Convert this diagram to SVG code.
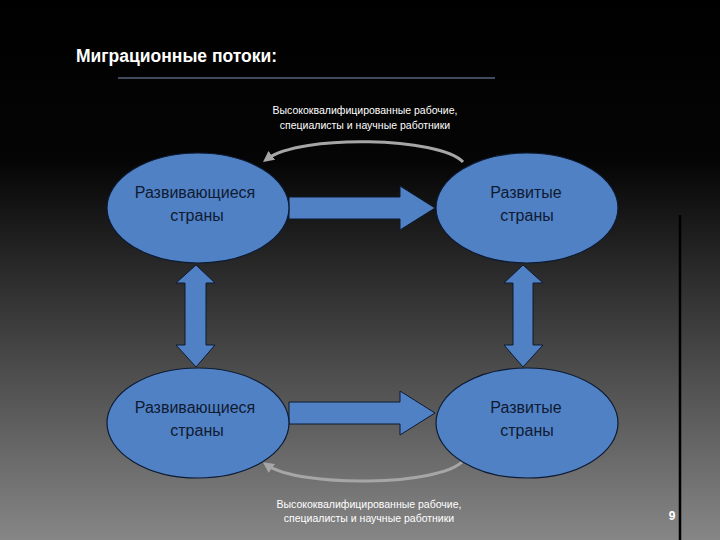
<svg xmlns="http://www.w3.org/2000/svg" width="720" height="540" viewBox="0 0 720 540">
<defs>
<linearGradient id="bg" x1="0" y1="0" x2="0" y2="1">
<stop offset="0" stop-color="#000"/>
<stop offset="0.3" stop-color="#050505"/>
<stop offset="1" stop-color="#868686"/>
</linearGradient>
<marker id="ah" markerWidth="11" markerHeight="11" refX="6" refY="5.5" orient="auto" markerUnits="userSpaceOnUse" viewBox="0 0 11 11">
<path d="M0,0 L11,5.5 L0,11 z" fill="#a6a6a6"/>
</marker>
<style>
.node{fill:#4f81c4;stroke:#0d1a33;stroke-width:1.2}
.arr{fill:#4f81c4;stroke:#0d1a33;stroke-width:1}
.nt{font-family:"Liberation Sans",Arial,sans-serif;font-size:16px;fill:#0f1a33;text-anchor:middle}
.lbl{font-family:"Liberation Sans",Arial,sans-serif;font-size:10.5px;fill:#fff;text-anchor:middle}
.curve{fill:none;stroke:#a6a6a6;stroke-width:3}
</style>
</defs>
<rect width="720" height="540" fill="url(#bg)"/>
<line x1="680" y1="215" x2="680" y2="540" stroke="#000" stroke-width="2.5"/>
<text x="76" y="62" font-family="Liberation Sans,Arial,sans-serif" font-size="17.5" font-weight="bold" fill="#fff">Миграционные потоки:</text>
<line x1="118" y1="78" x2="495" y2="78" stroke="#7f93bd" stroke-width="1"/>

<g id="connectors">
<path class="curve" d="M463,162 C440,137 300,134 267,159" marker-end="url(#ah)"/>
<path class="curve" d="M463,461 C440,486 300,488 267,465" marker-end="url(#ah)"/>
<path class="arr" d="M289,197 L400,197 L400,186 L435,208 L400,230 L400,219 L289,219 z"/>
<path class="arr" d="M289,402 L400,402 L400,391 L435,413 L400,435 L400,424 L289,424 z"/>
<path class="arr" d="M196,265 L215,283 L206,283 L206,345 L215,345 L196,367 L176,345 L185,345 L185,283 L176,283 z"/>
<path class="arr" d="M523,265 L543,283 L533,283 L533,345 L543,345 L523,367 L504,345 L513,345 L513,283 L504,283 z"/>
</g>

<g id="n1"><ellipse class="node" cx="198" cy="208" rx="91" ry="55"/>
<text class="nt" x="195" y="198">Развивающиеся</text><text class="nt" x="197" y="221">страны</text></g>
<g id="n2"><ellipse class="node" cx="527" cy="208" rx="91" ry="55"/>
<text class="nt" x="526" y="198">Развитые</text><text class="nt" x="527" y="221">страны</text></g>
<g id="n3"><ellipse class="node" cx="198" cy="423" rx="91" ry="55"/>
<text class="nt" x="195" y="413">Развивающиеся</text><text class="nt" x="197" y="436">страны</text></g>
<g id="n4"><ellipse class="node" cx="527" cy="423" rx="91" ry="55"/>
<text class="nt" x="526" y="413">Развитые</text><text class="nt" x="527" y="436">страны</text></g>

<text class="lbl" x="365" y="114">Высококвалифицированные рабочие,</text>
<text class="lbl" x="365" y="129">специалисты и научные работники</text>
<text class="lbl" x="369" y="508">Высококвалифицированные рабочие,</text>
<text class="lbl" x="369" y="522">специалисты и научные работники</text>
<text x="672" y="520" font-family="Liberation Sans,Arial,sans-serif" font-size="12" font-weight="bold" fill="#fff" text-anchor="middle">9</text>
</svg>
